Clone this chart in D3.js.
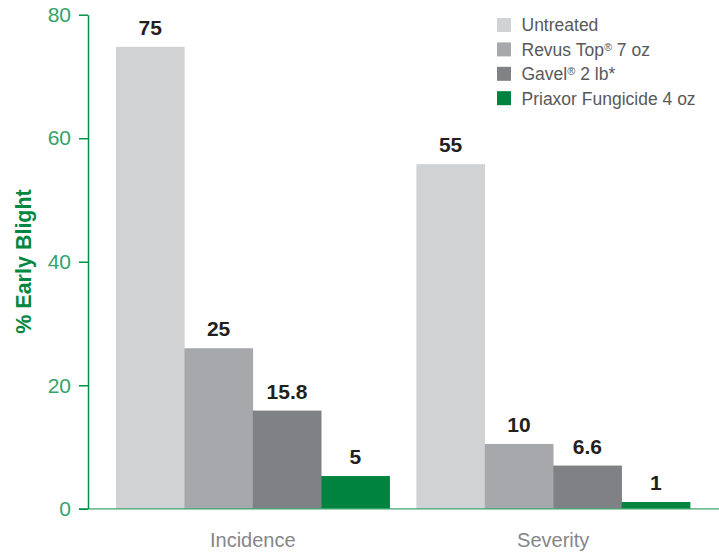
<!DOCTYPE html>
<html><head><meta charset="utf-8">
<script src="https://cdn.jsdelivr.net/npm/d3@7/dist/d3.min.js"></script>
<style>body{margin:0;background:#fff}svg{display:block}</style>
</head><body>
<svg id="c" width="719" height="554"></svg>
<script>
const groups = ["Incidence", "Severity"];
const series = ["Untreated", "Revus Top® 7 oz", "Gavel® 2 lb*", "Priaxor Fungicide 4 oz"];
const untreated = [74.8, 55.8];
const revusTop = [26.0, 10.5];
const gavel = [15.9, 7.0];
const priaxor = [5.3, 1.1];
const valueLabels = [["75", "55"], ["25", "10"], ["15.8", "6.6"], ["5", "1"]];
const yTicks = [0, 20, 40, 60, 80];
const colors = ["#d1d2d4", "#a7a8ab", "#808184", "#00833f"];

const seriesValues = [untreated, revusTop, gavel, priaxor];
const svg = d3.select("#c");
const light = "'Liberation Sans', Arial, sans-serif";

const y = d3.scaleLinear().domain([0, 80]).range([508.8, 14.7]);
const x0 = d3.scaleBand().domain(groups).range([88, 718]).paddingInner(0.089).paddingOuter(0.093);
const x1 = d3.scaleBand().domain(series).range([0, x0.bandwidth()]);

// bars
groups.forEach((g, gi) => {
  series.forEach((s, si) => {
    const v = seriesValues[si][gi];
    svg.append("rect")
      .attr("x", x0(g) + x1(s))
      .attr("y", y(v))
      .attr("width", x1.bandwidth() + 0.3)
      .attr("height", y(0) - y(v))
      .attr("fill", colors[si]);
    svg.append("text")
      .attr("x", x0(g) + x1(s) + x1.bandwidth() / 2)
      .attr("y", y(v) - 12)
      .attr("text-anchor", "middle")
      .attr("font-family", light)
      .attr("font-weight", "bold")
      .attr("font-size", 21)
      .attr("fill", "#231f20")
      .text(valueLabels[si][gi]);
  });
});

// x axis
const xAxis = svg.append("g").attr("transform", `translate(0,${y(0)})`)
  .call(d3.axisBottom(x0).tickSize(0).tickPadding(24));
xAxis.select(".domain").remove();
xAxis.append("line").attr("x1", 79).attr("x2", 719).attr("y1", 0).attr("y2", 0)
  .attr("stroke", "#3aa36d").attr("stroke-width", 1.3);
xAxis.selectAll("text").attr("font-family", light).attr("font-size", 20)
  .attr("fill", "#858689").attr("dy", "0.71em");

// y axis
const yAxis = svg.append("g").attr("transform", "translate(88,0)")
  .call(d3.axisLeft(y).tickValues(yTicks).tickSize(9).tickSizeOuter(0).tickPadding(8));
yAxis.select(".domain").attr("stroke", "#00924a").attr("stroke-width", 1.5);
yAxis.selectAll(".tick line").attr("stroke", "#00924a").attr("stroke-width", 1.5);
yAxis.selectAll(".tick text").attr("font-family", light).attr("font-size", 21)
  .attr("fill", "#34a26a");

svg.append("text")
  .attr("transform", "translate(31,261.5) rotate(-90)")
  .attr("text-anchor", "middle")
  .attr("font-family", light).attr("font-weight", "bold").attr("font-size", 21.5)
  .attr("fill", "#00873f")
  .text("% Early Blight");

// legend
const leg = svg.append("g");
series.forEach((s, i) => {
  const cy = 25 + i * 24.4;
  leg.append("rect").attr("x", 497).attr("y", cy - 7).attr("width", 14).attr("height", 14)
    .attr("fill", colors[i]);
  const t = leg.append("text").attr("x", 521.5).attr("y", cy).attr("dy", "0.36em")
    .attr("font-family", light).attr("font-size", 17.5).attr("fill", "#58595b");
  const parts = s.split("®");
  t.append("tspan").text(parts[0]);
  if (parts.length > 1) {
    t.append("tspan").attr("font-size", 11).attr("dy", "-0.45em").text("®");
    t.append("tspan").attr("dy", "0.3em").text(parts[1]);
  }
});
</script>
</body></html>
